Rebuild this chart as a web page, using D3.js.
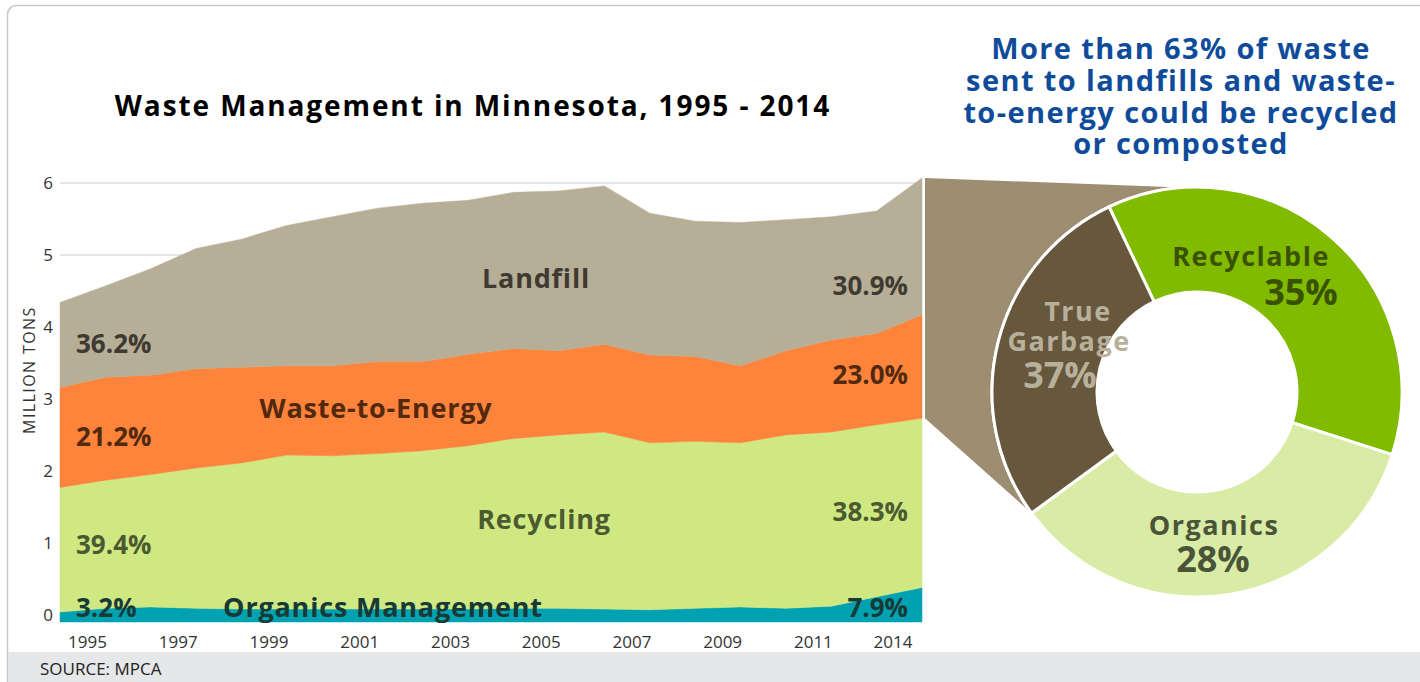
<!DOCTYPE html>
<html>
<head>
<meta charset="utf-8">
<script src="https://cdn.jsdelivr.net/npm/d3@7"></script>
<style>
  body { margin: 0; background: #fff; }
  svg text { font-family: "Open Sans", "Noto Sans", sans-serif; }
  .title { font-size: 28px; font-weight: 700; fill: #000; letter-spacing: 1.9px; }
  .headline { font-size: 29px; font-weight: 700; fill: #0e4c9b; letter-spacing: 1.4px; }
  .tick-label { font-size: 17px; fill: #333; }
  .axis-title { font-size: 16px; fill: #333; letter-spacing: 1.4px; }
  .area-label { font-size: 27px; font-weight: 700; letter-spacing: 0.8px; }
  .share { font-size: 26px; font-weight: 700; }
  .source { font-size: 17px; fill: #222; }
  .donut-name { font-size: 27px; font-weight: 700; letter-spacing: 1.5px; }
  .donut-share { font-size: 36px; font-weight: 700; }
</style>
</head>
<body>
<div class="graphic"></div>
<script>
// million tons per year
const years = [1995, 1996, 1997, 1998, 1999, 2000, 2001, 2002, 2003, 2004,
               2005, 2006, 2007, 2008, 2009, 2010, 2011, 2012, 2013, 2014];
const organics = [0.04, 0.09, 0.11, 0.09, 0.08, 0.08, 0.08, 0.08, 0.08, 0.08,
                  0.09, 0.09, 0.08, 0.07, 0.09, 0.11, 0.09, 0.12, 0.25, 0.38];
const recycling = [1.73, 1.78, 1.84, 1.95, 2.03, 2.14, 2.13, 2.16, 2.20, 2.27,
                   2.36, 2.41, 2.46, 2.32, 2.32, 2.28, 2.41, 2.42, 2.39, 2.35];
const wasteToEnergy = [1.39, 1.43, 1.38, 1.38, 1.33, 1.24, 1.25, 1.28, 1.24, 1.27,
                       1.25, 1.17, 1.22, 1.22, 1.18, 1.07, 1.17, 1.28, 1.27, 1.44];
const landfill = [1.18, 1.27, 1.48, 1.67, 1.78, 1.95, 2.07, 2.13, 2.20, 2.14,
                  2.17, 2.22, 2.20, 1.97, 1.88, 1.99, 1.82, 1.71, 1.70, 1.90];

const seriesKeys = ["organics", "recycling", "wasteToEnergy", "landfill"];
const seriesNames = ["Organics Management", "Recycling", "Waste-to-Energy", "Landfill"];
const firstShares = ["3.2%", "39.4%", "21.2%", "36.2%"];
const lastShares = ["7.9%", "38.3%", "23.0%", "30.9%"];

const yTicks = [0, 1, 2, 3, 4, 5, 6];
const xTickYears = [1995, 1997, 1999, 2001, 2003, 2005, 2007, 2009, 2011, 2014];

// donut: slice sizes as drawn, labels as printed
const donutNames = ["Recyclable", "Organics", "True Garbage"];
const donutSizes = [37, 35, 28];
const donutLabels = ["35%", "28%", "37%"];

const width = 1420;
const height = 682;

const fill = d3.scaleOrdinal()
    .domain(seriesKeys)
    .range(["#00a2b1", "#d0e882", "#fe833b", "#b6ae96"]);

const ink = d3.scaleOrdinal()
    .domain(seriesKeys)
    .range(["#173a36", "#4b5a30", "#50290f", "#3e3a32"]);

const donutFill = d3.scaleOrdinal()
    .domain(donutNames)
    .range(["#80bb00", "#d8eca6", "#67573d"]);

const donutInk = d3.scaleOrdinal()
    .domain(donutNames)
    .range(["#3a5200", "#4a5438", "#b8b09a"]);

const svg = d3.select(".graphic").append("svg")
    .attr("width", width)
    .attr("height", height);

function drawFrame() {
    svg.append("rect")
        .attr("x", 7.5).attr("y", 5.5)
        .attr("width", width + 20).attr("height", height + 20)
        .attr("rx", 9)
        .attr("fill", "none")
        .attr("stroke", "#c9c9c9")
        .attr("stroke-width", 1.5);

    svg.append("rect")
        .attr("x", 8).attr("y", 652)
        .attr("width", width).attr("height", 30)
        .attr("fill", "#e6e7e8");

    svg.append("text")
        .attr("class", "source")
        .attr("x", 40).attr("y", 675)
        .text("SOURCE: MPCA");

    svg.append("text")
        .attr("class", "title")
        .attr("x", 473).attr("y", 116)
        .attr("text-anchor", "middle")
        .text("Waste Management in Minnesota, 1995 - 2014");

    const lines = ["More than 63% of waste", "sent to landfills and waste-",
                   "to-energy could be recycled", "or composted"];
    svg.append("text")
        .attr("class", "headline")
        .attr("text-anchor", "middle")
        .selectAll("tspan")
        .data(lines)
        .enter()
        .append("tspan")
        .attr("x", 1181)
        .attr("y", (d, i) => 59 + i * 31.8)
        .text(d => d);
}

function setupChart() {
    const table = years.map((yr, i) => ({
        year: yr,
        organics: organics[i],
        recycling: recycling[i],
        wasteToEnergy: wasteToEnergy[i],
        landfill: landfill[i]
    }));

    const stacked = d3.stack().keys(seriesKeys)(table);

    const x = d3.scalePoint().domain(years).range([60, 922]);
    const y = d3.scaleLinear().domain([-0.1, 6]).range([622, 183]);

    // gridlines
    svg.append("g")
        .selectAll("line")
        .data(yTicks)
        .enter()
        .append("line")
        .attr("x1", 60).attr("x2", 922)
        .attr("y1", d => y(d)).attr("y2", d => y(d))
        .attr("stroke", "#dcdcdc")
        .attr("stroke-width", 1.5);

    const area = d3.area()
        .x(d => x(d.data.year))
        .y0(d => d[0] === 0 ? y(y.domain()[0]) : y(d[0]))
        .y1(d => y(d[1]));

    svg.append("g")
        .selectAll("path")
        .data(stacked)
        .enter()
        .append("path")
        .attr("d", area)
        .attr("fill", d => fill(d.key))
        .attr("stroke", d => fill(d.key))
        .attr("stroke-width", 0.5);

    // y axis
    const yAxis = d3.axisLeft(y).tickValues(yTicks).tickFormat(d3.format("d")).tickSize(0).tickPadding(7);
    const gy = svg.append("g").attr("transform", "translate(60,0)").call(yAxis);
    gy.select(".domain").remove();
    gy.selectAll("text")
        .attr("class", "tick-label")
        .attr("fill", null);
    gy.attr("font-family", null).attr("font-size", null);

    svg.append("text")
        .attr("class", "axis-title")
        .attr("transform", "translate(35," + y(3.4) + ") rotate(-90)")
        .attr("text-anchor", "middle")
        .text("MILLION TONS");

    // x labels sit between the yearly points; last one pulled inside
    svg.append("g")
        .selectAll("text")
        .data(xTickYears)
        .enter()
        .append("text")
        .attr("class", "tick-label")
        .attr("x", d => d === years[years.length - 1] ? x(d) - 29 : x(d) + 27.5)
        .attr("y", 648)
        .attr("text-anchor", "middle")
        .text(d => d);

    // series labels
    const labelPos = [[383, 617], [544, 529], [376, 418], [536, 288]];
    const firstPos = [617, 554, 446, 353];
    const lastPos = [617, 521, 384, 295];

    seriesKeys.forEach(function(k, i) {
        svg.append("text")
            .attr("class", "area-label")
            .attr("x", labelPos[i][0]).attr("y", labelPos[i][1])
            .attr("text-anchor", "middle")
            .attr("fill", ink(k))
            .text(seriesNames[i]);

        svg.append("text")
            .attr("class", "share")
            .attr("x", x(years[0]) + 16).attr("y", firstPos[i])
            .attr("fill", ink(k))
            .text(firstShares[i]);

        svg.append("text")
            .attr("class", "share")
            .attr("x", x(years[years.length - 1]) - 14).attr("y", lastPos[i])
            .attr("text-anchor", "end")
            .attr("fill", ink(k))
            .text(lastShares[i]);
    });

    return { x: x, y: y, last: table[table.length - 1] };
}

function setupDonut(chart) {
    const cx = 1197, cy = 392;
    const outer = 205, inner = 100;

    const pie = d3.pie()
        .value(d => d.size)
        .sort(null)
        .startAngle(-25.4 * Math.PI / 180)
        .endAngle((360 - 25.4) * Math.PI / 180);

    const slices = pie(donutNames.map((n, i) => ({ name: n, size: donutSizes[i], label: donutLabels[i] })));

    const arc = d3.arc().innerRadius(inner).outerRadius(outer);

    // wedge from the 2014 landfill + waste-to-energy band to the donut
    const last = chart.last;
    const pt = a => [cx + outer * Math.sin(a), cy - outer * Math.cos(a)];
    const topPt = pt(-4.2 * Math.PI / 180);
    const botPt = pt(slices[2].startAngle);
    const x0 = chart.x(last.year) + 3;
    const wedge = [
        [x0, chart.y(last.organics + last.recycling + last.wasteToEnergy + last.landfill)],
        topPt,
        botPt,
        [x0, chart.y(last.organics + last.recycling)]
    ];
    svg.append("path")
        .attr("d", "M" + wedge.map(p => p.join(",")).join("L") + "Z")
        .attr("fill", "#9e8e71");

    const g = svg.append("g").attr("transform", "translate(" + cx + "," + cy + ")");

    g.append("circle")
        .attr("r", outer + 1.5)
        .attr("fill", "#fff");

    g.selectAll("path")
        .data(slices)
        .enter()
        .append("path")
        .attr("d", arc)
        .attr("fill", d => donutFill(d.data.name))
        .attr("stroke", "#fff")
        .attr("stroke-width", 3);

    const namePos = { "Recyclable": [54, -126], "Organics": [17, 143], "True Garbage": [-124, -71] };
    const sharePos = { "Recyclable": [104, -87], "Organics": [16, 180], "True Garbage": [-137, -4] };

    slices.forEach(function(d) {
        const n = d.data.name;
        const t = g.append("text")
            .attr("class", "donut-name")
            .attr("text-anchor", "middle")
            .attr("fill", donutInk(n));
        if (n === "True Garbage") {
            t.append("tspan").attr("x", namePos[n][0] + 5).attr("y", namePos[n][1]).text("True");
            t.append("tspan").attr("x", namePos[n][0] - 4).attr("y", namePos[n][1] + 30).text("Garbage");
        } else {
            t.attr("x", namePos[n][0]).attr("y", namePos[n][1]).text(n);
        }
        g.append("text")
            .attr("class", "donut-share")
            .attr("x", sharePos[n][0]).attr("y", sharePos[n][1])
            .attr("text-anchor", "middle")
            .attr("fill", donutInk(n))
            .text(d.data.label);
    });
}

drawFrame();
const chart = setupChart();
setupDonut(chart);
</script>
</body>
</html>
